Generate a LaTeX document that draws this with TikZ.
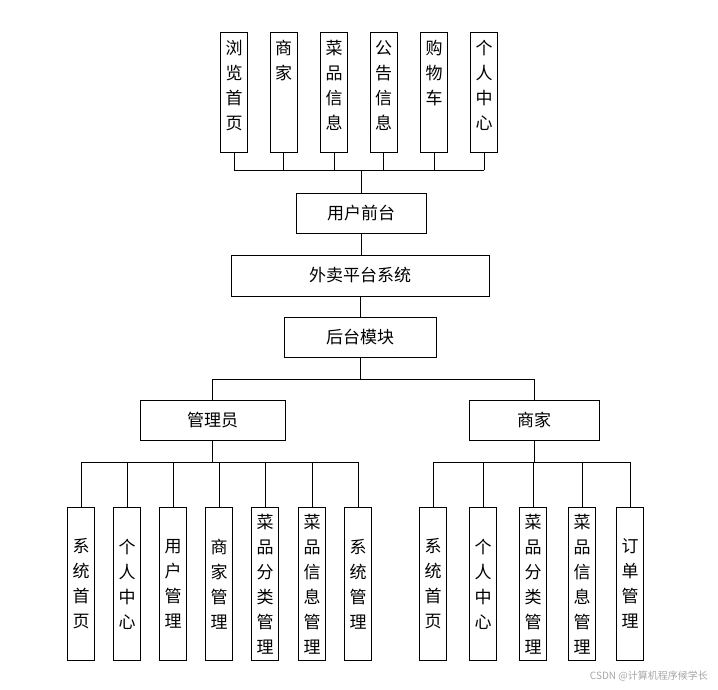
\documentclass[tikz,border=0pt]{standalone}
\usepackage{fontspec}
\setmainfont{Noto Sans CJK SC}
\begin{document}
\begin{tikzpicture}[x=1pt,y=-1pt,
  bx/.style={draw,line width=0.8pt,inner sep=0pt},
  tx/.style={font=\fontsize{17}{25}\selectfont,align=center,inner sep=0pt},
  ln/.style={line width=0.8pt}]
\useasboundingbox (0,0) rectangle (718,689);
% top vertical boxes
\foreach \n/\x/\t in {t1/234/浏\\览\\首\\页, t2/283.5/商\\家, t3/334/菜\\品\\信\\息, t4/383.5/公\\告\\信\\息, t5/434/购\\物\\车, t6/484/个\\人\\中\\心}{
  \node[bx,minimum width=27,minimum height=120,anchor=north] (\n) at (\x,32) {};
  \node[tx,anchor=north] at (\x,40) {\t};
}
\coordinate (bl) at (234,170); \coordinate (br) at (484,170);
\draw[ln] (bl)--(br);
\foreach \n in {t1,t2,t3,t4,t5,t6}{\draw[ln] (\n.south)--(\n.south|-bl);}
\node[bx,minimum width=130,minimum height=40,tx] (qt) at (361,213) {用户前台};
\node[bx,minimum width=258,minimum height=41,tx] (sys) at (360,275.5) {外卖平台系统};
\node[bx,minimum width=152,minimum height=40,tx] (ht) at (360,337) {后台模块};
\draw[ln] (qt.north)--(qt.north|-bl);
\draw[ln] (qt.south)--(qt.south|-sys.north);
\draw[ln] (sys.south)--(sys.south|-ht.north);
\node[bx,minimum width=145,minimum height=40,tx] (gly) at (212.5,420) {管理员};
\node[bx,minimum width=130,minimum height=40,tx] (sj) at (534,420) {商家};
\coordinate (m1) at (212.5,379); \coordinate (m2) at (534,379);
\draw[ln] (ht.south)--(ht.south|-m1);
\draw[ln] (m1)--(m2);
\draw[ln] (m1)--(gly.north); \draw[ln] (m2)--(sj.north);
% admin children
\coordinate (a1) at (81,462); \coordinate (a2) at (358,462);
\draw[ln] (gly.south)--(gly.south|-a1);
\draw[ln] (a1)--(a2);
\foreach \n/\x/\t in {g1/81/系\\统\\首\\页, g2/127/个\\人\\中\\心, g3/173/用\\户\\管\\理, g4/219/商\\家\\管\\理, g5/265/菜\\品\\分\\类\\管\\理, g6/312/菜\\品\\信\\息\\管\\理, g7/358/系\\统\\管\\理}{
  \node[bx,minimum width=27,minimum height=153,anchor=north] (\n) at (\x,507) {};
  \node[tx] at (\n.center) {\t};
  \draw[ln] (\n.north)--(\n.north|-a1);
}
\coordinate (b1) at (433,462); \coordinate (b2) at (630,462);
\draw[ln] (sj.south)--(sj.south|-b1);
\draw[ln] (b1)--(b2);
\foreach \n/\x/\t in {s1/433/系\\统\\首\\页, s2/483/个\\人\\中\\心, s3/533/菜\\品\\分\\类\\管\\理, s4/582/菜\\品\\信\\息\\管\\理, s5/630/订\\单\\管\\理}{
  \node[bx,minimum width=27,minimum height=153,anchor=north] (\n) at (\x,507) {};
  \node[tx] at (\n.center) {\t};
  \draw[ln] (\n.north)--(\n.north|-b1);
}
\node[anchor=east,text=gray!70,font=\fontsize{10}{12}\selectfont,inner sep=0pt] (wm) at (708,676) {CSDN @计算机程序候学长};
\end{tikzpicture}
\end{document}
